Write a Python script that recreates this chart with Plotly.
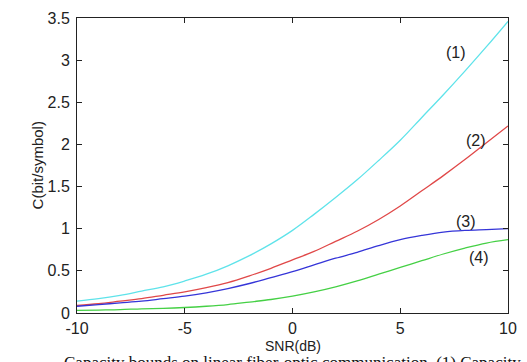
import plotly.graph_objects as go

snr_db = [-10, -9, -8, -7, -6, -5, -4, -3, -2, -1, 0, 1, 2, 3, 4, 5, 6, 7, 8, 9, 10]
c1 = [0.14, 0.17, 0.21, 0.26, 0.31, 0.38, 0.46, 0.56, 0.68, 0.82, 0.98, 1.17, 1.37, 1.58, 1.81, 2.05, 2.32, 2.59, 2.87, 3.16, 3.46]
c2 = [0.09, 0.11, 0.14, 0.17, 0.21, 0.25, 0.30, 0.36, 0.44, 0.53, 0.63, 0.73, 0.85, 0.97, 1.11, 1.27, 1.45, 1.63, 1.82, 2.02, 2.22]
c3 = [0.08, 0.10, 0.12, 0.14, 0.17, 0.20, 0.24, 0.29, 0.35, 0.42, 0.49, 0.57, 0.65, 0.72, 0.80, 0.87, 0.92, 0.96, 0.98, 0.99, 1.00]
c4 = [0.03, 0.035, 0.04, 0.05, 0.055, 0.065, 0.08, 0.10, 0.13, 0.16, 0.20, 0.25, 0.31, 0.38, 0.46, 0.54, 0.62, 0.70, 0.77, 0.83, 0.87]

labels = ["(1)", "(2)", "(3)", "(4)"]
label_x = [7.6, 8.5, 8.05, 8.65]
label_y = [3.09, 2.05, 1.09, 0.66]

x_ticks = [-10, -5, 0, 5, 10]
x_ticktext = ["-10", "-5", "0", "5", "10"]
y_ticks = [0, 0.5, 1, 1.5, 2, 2.5, 3, 3.5]
y_ticktext = ["0", "0.5", "1", "1.5", "2", "2.5", "3", "3.5"]

colors = ["#5fe3ea", "#e04848", "#3535d8", "#45d045"]
series = [c1, c2, c3, c4]

FONT = "Liberation Sans, Arial"

fig = go.Figure()
for ys, col in zip(series, colors):
    fig.add_trace(go.Scatter(x=snr_db, y=ys, mode="lines",
                             line=dict(color=col, width=1.3, shape="spline"),
                             showlegend=False, hoverinfo="skip"))

for t, lx, ly in zip(labels, label_x, label_y):
    fig.add_annotation(x=lx, y=ly, text=t, showarrow=False,
                       font=dict(family=FONT, size=16, color="#222"))

fig.add_annotation(xref="paper", yref="paper", x=0.5, y=-0.08, yanchor="top",
                   text="SNR(dB)", showarrow=False, borderpad=0,
                   font=dict(family=FONT, size=14, color="#222"))
fig.add_annotation(xref="paper", yref="paper", x=-0.115, y=0.5, textangle=-90,
                   text="C(bit/symbol)", showarrow=False,
                   font=dict(family=FONT, size=15, color="#222"))
fig.add_annotation(xref="paper", yref="paper", x=0.5, y=-0.132, yanchor="top",
                   text="Capacity bounds on linear fiber-optic communication. (1) Capacity",
                   showarrow=False, borderpad=0,
                   font=dict(family="Liberation Serif, Times New Roman", size=17, color="#111"))

axis_common = dict(showgrid=False, zeroline=False, showline=True, linecolor="#222",
                   linewidth=1, mirror="ticks", ticks="inside", ticklen=5,
                   tickcolor="#222", tickfont=dict(family=FONT, size=16, color="#222"))

fig.update_xaxes(range=[-10, 10], tickvals=x_ticks, ticktext=x_ticktext, ticklabelstandoff=1, **axis_common)
fig.update_yaxes(range=[0, 3.5], tickvals=y_ticks, ticktext=y_ticktext, ticklabelstandoff=3, **axis_common)

fig.update_layout(width=527, height=362, margin=dict(l=77, r=18, t=10, b=49),
                  paper_bgcolor="white", plot_bgcolor="white")

fig.write_html("out.html", config={"displayModeBar": False},
               post_script="document.body.style.margin='0';document.body.style.overflow='hidden';")
